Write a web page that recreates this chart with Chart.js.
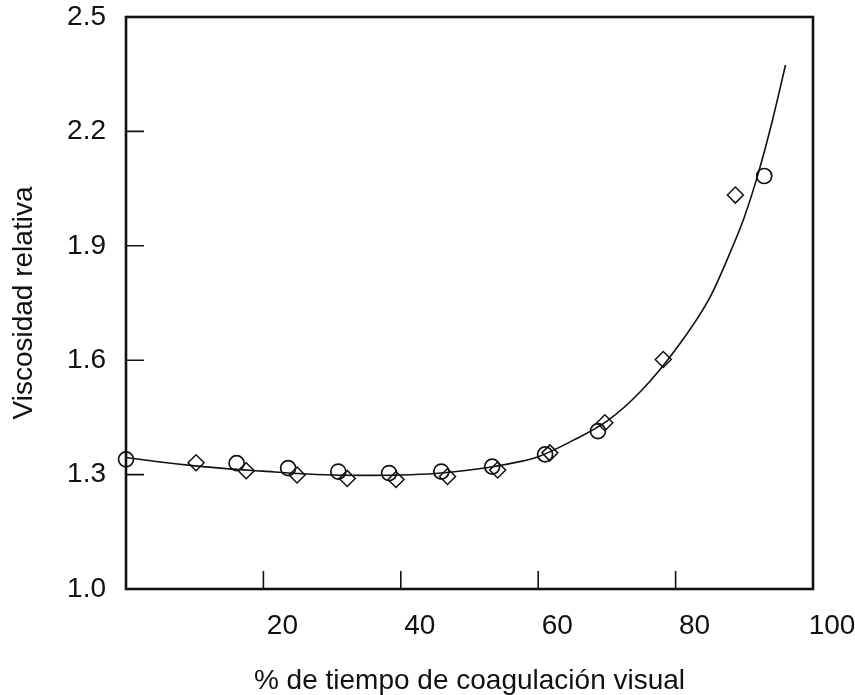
<!DOCTYPE html>
<html>
<head>
<meta charset="utf-8">
<script src="https://cdn.jsdelivr.net/npm/chart.js@4.4.1/dist/chart.umd.min.js"></script>
<style>
html,body{margin:0;padding:0;background:#fff;}
#wrap{width:855px;height:695px;position:relative;}
</style>
</head>
<body>
<div id="wrap"><canvas id="c" width="855" height="695"></canvas></div>
<script>
// Series: circles
const circleX = [0, 16.1, 23.6, 30.9, 38.3, 45.9, 53.3, 61.0, 68.7, 92.9];
const circleY = [1.340, 1.330, 1.317, 1.308, 1.304, 1.308, 1.321, 1.353, 1.414, 2.083];
// Series: diamonds
const diamondX = [10.2, 17.5, 24.9, 32.2, 39.3, 46.8, 54.1, 61.7, 69.7, 78.2, 88.7];
const diamondY = [1.331, 1.310, 1.299, 1.290, 1.287, 1.295, 1.312, 1.357, 1.436, 1.602, 2.033];
// Fitted curve
const curveX = [0, 5, 10, 15, 20, 25, 30, 35, 40, 45, 50, 55, 60, 65, 70, 75, 80, 85, 88, 90, 92, 94, 96];
const curveY = [1.345, 1.333, 1.323, 1.315, 1.309, 1.303, 1.299, 1.298, 1.299, 1.303, 1.312, 1.326, 1.347, 1.389, 1.440, 1.520, 1.628, 1.765, 1.885, 1.975, 2.088, 2.222, 2.374];
// Ticks
const xTicks = [20, 40, 60, 80, 100];
const yTicks = [1.0, 1.3, 1.6, 1.9, 2.2, 2.5];
const xTitle = '% de tiempo de coagulación visual';
const yTitle = 'Viscosidad relativa';

const toPts = (xs, ys) => xs.map((x, i) => ({x: x, y: ys[i]}));

const boxPlugin = {
  id: 'box',
  afterDatasetsDraw(chart) {
    const {ctx, chartArea: a, scales} = chart;
    ctx.save();
    ctx.strokeStyle = '#111';
    ctx.lineWidth = 1.6;
    ctx.beginPath();
    xTicks.forEach(v => {
      if (v <= scales.x.min || v >= scales.x.max) return;
      const px = scales.x.getPixelForValue(v);
      ctx.moveTo(px, a.bottom);
      ctx.lineTo(px, a.bottom - 18);
    });
    yTicks.forEach(v => {
      if (v <= scales.y.min || v >= scales.y.max) return;
      const py = scales.y.getPixelForValue(v);
      ctx.moveTo(a.left, py);
      ctx.lineTo(a.left + 18, py);
    });
    ctx.stroke();
    ctx.lineWidth = 2.6;
    ctx.strokeRect(a.left, a.top, a.right - a.left, a.bottom - a.top);
    ctx.restore();
  }
};

new Chart(document.getElementById('c'), {
  type: 'scatter',
  data: {
    datasets: [
      {
        data: toPts(curveX, curveY),
        showLine: true,
        borderColor: '#111',
        borderWidth: 1.6,
        pointRadius: 0,
        cubicInterpolationMode: 'monotone',
        fill: false
      },
      {
        data: toPts(circleX, circleY),
        pointStyle: 'circle',
        pointRadius: 7.5,
        borderColor: '#111',
        borderWidth: 1.7,
        backgroundColor: 'rgba(0,0,0,0)',
        clip: false
      },
      {
        data: toPts(diamondX, diamondY),
        pointStyle: 'rectRot',
        pointRadius: 8,
        borderColor: '#111',
        borderWidth: 1.5,
        backgroundColor: 'rgba(0,0,0,0)',
        clip: false
      }
    ]
  },
  options: {
    responsive: false,
    animation: false,
    layout: {padding: {left: 0, top: 17, right: 42, bottom: 0}},
    plugins: {legend: {display: false}, tooltip: {enabled: false}},
    scales: {
      x: {
        type: 'linear',
        min: 0, max: 100,
        afterFit(s) { s.height = 106; s.paddingLeft = 0; s.paddingRight = 0; },
        afterBuildTicks(s) { s.ticks = xTicks.map(v => ({value: v})); },
        grid: {display: false},
        border: {display: false},
        ticks: {
          color: '#111',
          font: {family: 'Liberation Sans, Arial, sans-serif', size: 28},
          padding: 12,
          labelOffset: 19,
          maxRotation: 0,
          autoSkip: false,
          callback: v => String(v)
        },
        title: {
          display: true,
          text: xTitle,
          color: '#111',
          font: {family: 'Liberation Sans, Arial, sans-serif', size: 28},
          padding: {top: 0, bottom: -3}
        }
      },
      y: {
        type: 'linear',
        min: 1.0, max: 2.5,
        afterFit(s) { s.width = 126; s.paddingTop = 0; s.paddingBottom = 0; },
        afterBuildTicks(s) { s.ticks = yTicks.map(v => ({value: v})); },
        grid: {display: false},
        border: {display: false},
        ticks: {
          color: '#111',
          font: {family: 'Liberation Sans, Arial, sans-serif', size: 28},
          padding: 12,
          autoSkip: false,
          callback: v => v.toFixed(1)
        },
        title: {
          display: true,
          text: yTitle,
          color: '#111',
          font: {family: 'Liberation Sans, Arial, sans-serif', size: 28},
          padding: {top: 7, bottom: 0}
        }
      }
    }
  },
  plugins: [boxPlugin]
});
</script>
</body>
</html>
